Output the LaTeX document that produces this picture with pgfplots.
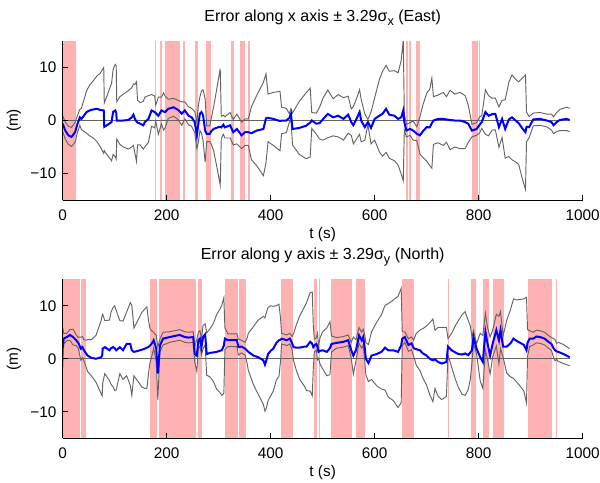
\documentclass[border=0pt]{standalone}
\usepackage{fontspec}
\setmainfont{Liberation Sans}
\usepackage{pgfplots}
\usepackage{pgfplotstable}
\pgfplotsset{compat=1.18}

\definecolor{bandred}{RGB}{255,178,178}
\definecolor{errblue}{RGB}{0,0,255}
\definecolor{boundgray}{RGB}{100,100,100}

% t = time (s), E = error (m), B = 3.29 sigma (m)
\pgfplotstableread{
t E B
0 -0.6 1.5
5 -1.9 1.6
11 -2.8 1.7
17 -3.1 1.8
24 -2.2 1.9
28 -0.8 1.6
33 0.6 1.5
36 0.3 2.0
40 0.8 2.8
46 1.6 4.0
52 1.9 4.8
59 2.1 5.4
66 2.2 6.2
72 2.0 6.9
79 1.9 8.1
80 -1.2 4.5
85 -0.9 5.5
94 -0.3 7.3
97 1.6 8.0
101 1.9 8.7
103 1.5 8.8
104 0.0 3.5
110 0.0 4.5
117 0.0 5.0
126 0.1 5.5
133 0.6 5.6
136 1.1 5.8
139 0.3 6.5
142 -0.2 7.5
144 -0.4 4.2
149 -0.6 4.0
155 -0.9 4.5
158 -0.3 4.7
165 0.3 4.4
171 1.9 3.0
177 1.6 3.0
179 1.4 1.5
184 0.9 3.5
190 1.9 2.5
194 1.7 3.5
197 1.6 3.0
203 2.2 1.8
213 2.5 1.7
222 2.0 1.8
229 1.3 2.2
235 1.9 1.6
242 0.9 1.7
248 0.6 1.7
254 -0.3 2.0
258 -2.8 2.5
261 -0.6 3.5
264 1.3 3.2
267 1.6 4.0
270 1.0 4.8
274 -1.9 6.0
277 -2.5 1.5
283 -2.5 1.5
286 -2.0 2.5
290 -1.6 4.0
298 -1.3 8.2
303 -1.2 11.0
305 -1.3 2.1
309 -0.8 1.8
312 -1.3 2.0
322 -0.9 2.4
328 -2.2 2.4
335 -1.6 2.8
344 -2.8 2.5
351 -2.2 2.5
357 -2.2 2.5
363 -2.4 5.0
373 -1.9 6.6
386 -1.6 8.8
391 0.4 8.4
395 0.5 4.5
405 0.3 5.0
418 -0.1 5.6
421 0.0 2.5
430 0.0 2.3
436 0.5 0.8
439 1.25 1.0
442 -1.6 3.0
455 -1.4 5.0
468 -1.0 6.2
476 -0.4 6.5
479 0.0 1.5
488 -0.6 2.0
494 -0.5 3.0
501 0.3 4.0
510 1.25 4.5
520 0.6 3.5
530 0.9 4.0
540 0.3 4.0
549 1.1 3.5
555 -0.3 2.5
559 -0.9 3.5
565 0.3 3.8
571 1.6 4.2
574 0.0 4.0
581 -1.25 2.5
587 -0.3 0.5
593 -1.4 3.0
600 0.3 4.0
609 0.9 6.8
615 1.25 8.0
622 2.2 8.2
628 1.1 8.2
638 0.9 8.5
645 0.3 8.7
651 0.6 10.7
655 1.9 13.3
657 -0.3 1.5
661 -1.9 1.2
668 -1.6 1.2
674 -1.9 1.8
681 -2.5 1.3
687 -2.8 3.5
693 -2.0 5.0
700 -1.25 6.4
706 -1.3 7.2
710 -0.5 8.5
713 0.0 4.5
722 0.3 4.5
732 0.3 5.0
738 0.2 4.3
745 0.1 5.6
754 0.0 5.0
764 0.0 5.3
774 -0.3 5.0
780 -0.6 3.5
787 -1.9 1.2
796 -1.6 1.2
802 -0.8 1.5
806 -0.3 1.2
813 1.6 4.2
819 0.9 3.8
826 1.2 3.0
832 1.25 3.0
839 -1.25 3.8
845 0.3 3.5
851 -1.6 5.5
858 0.2 7.0
864 0.6 8.0
871 0.0 7.8
877 -0.5 7.8
884 -1.5 9.5
890 -2.2 10.8
892 -1.2 2.8
897 -1.25 2.0
905 0.2 1.2
918 0.3 1.2
931 0.0 1.2
940 -0.3 1.5
944 -0.9 1.6
950 -0.3 1.8
956 0.1 2.0
969 0.3 2.2
975 0.1 2.2
}\eastdata

\pgfplotstableread{
t E B
0 2.0 4.0
2 3.8 1.0
8 4.1 0.7
14 4.5 1.0
20 4.1 1.5
26 3.5 1.0
30 3.0 1.0
32 2.6 1.5
35 1.9 2.2
38 2.2 2.0
41 1.6 2.0
45 1.0 2.5
48 0.6 3.0
55 0.2 3.4
64 0.0 4.4
74 0.3 6.9
76 0.6 7.6
77 1.9 6.5
81 2.2 5.0
90 1.6 5.7
93 2.0 6.8
97 2.2 7.5
100 2.0 8.0
103 1.6 7.5
110 2.2 5.0
116 1.6 5.5
123 2.8 6.0
130 2.8 7.8
133 1.6 8.5
137 1.3 4.5
145 1.5 5.8
152 1.7 7.0
158 1.9 7.5
162 2.1 7.7
165 2.2 5.0
168 2.5 3.2
171 2.8 2.5
175 3.5 1.5
180 1.9 2.5
183 -2.8 5.0
187 2.5 1.2
193 3.8 1.2
206 4.1 1.0
225 4.5 1.0
235 4.1 1.0
242 4.0 1.0
251 4.1 1.0
254 0.9 1.5
258 0.6 3.0
261 3.5 1.5
264 3.8 1.5
267 2.2 1.5
270 4.1 2.2
274 4.6 2.0
277 0.9 4.0
283 1.1 4.5
290 1.2 5.5
296 1.3 7.0
302 1.5 7.8
306 1.6 8.5
310 2.5 9.0
312 3.8 2.0
318 3.5 1.2
328 3.5 1.2
335 3.5 1.2
338 2.2 1.5
344 2.3 1.2
351 1.9 1.2
355 1.5 2.5
357 1.3 3.5
367 0.6 5.5
376 0.3 7.0
386 -0.3 8.3
389 -1.1 8.8
392 -0.2 9.0
395 0.9 8.8
400 1.5 8.5
405 1.9 8.0
411 3.0 7.0
416 3.5 6.8
419 3.6 4.0
421 3.8 1.0
431 3.5 1.0
437 3.8 1.0
441 3.0 1.2
444 2.2 2.5
450 2.1 4.5
456 2.1 6.0
465 2.3 7.5
469 2.3 8.3
476 3.2 9.3
480 2.8 9.8
482 2.2 4.0
484 2.5 1.2
488 2.8 1.2
490 2.3 2.5
492 1.3 1.2
495 1.5 2.5
500 1.6 3.5
508 1.3 4.5
514 2.0 5.0
517 2.8 1.5
527 3.0 1.0
540 3.2 1.0
549 3.5 1.0
555 1.6 1.5
559 0.6 3.5
564 1.6 2.0
570 4.4 1.5
575 3.5 1.5
578 4.1 1.5
581 2.0 2.5
583 0.0 3.0
588 -0.8 3.5
594 0.6 4.5
604 0.9 6.0
613 1.3 7.0
620 2.1 8.0
626 1.6 8.8
636 1.6 9.5
645 1.3 10.5
651 2.5 10.8
653 3.8 1.3
658 4.1 1.0
665 2.6 1.2
671 2.9 1.2
675 2.0 1.5
680 1.8 3.0
687 1.6 3.8
693 1.0 4.7
700 0.6 5.6
706 0.0 6.8
712 -0.3 7.8
716 -0.1 5.5
722 -0.6 6.5
729 -0.9 6.8
738 -0.6 6.5
741 2.3 1.5
748 1.6 3.2
755 1.2 5.0
761 0.9 6.3
768 0.8 7.5
774 1.0 7.9
780 0.7 6.5
784 1.2 5.0
787 1.6 2.5
790 4.1 1.2
796 1.9 1.0
803 0.3 4.5
808 -0.6 5.0
813 5.1 3.5
817 2.9 3.0
822 0.6 3.5
827 2.9 2.5
834 5.4 3.0
839 3.5 4.5
842 5.4 3.5
847 2.3 2.0
854 2.3 5.0
861 2.9 6.3
867 3.8 7.5
874 3.3 7.8
880 3.0 8.2
887 2.6 8.7
892 1.6 10.0
894 3.0 2.5
898 3.8 1.5
905 3.8 1.2
911 4.2 1.2
918 4.1 1.2
927 3.8 1.2
934 3.2 1.2
940 2.8 1.2
944 2.0 1.8
947 1.6 2.0
950 1.4 1.5
953 1.3 1.8
963 0.9 1.8
975 0.3 1.6
}\northdata

% shaded interval (s)
\newcommand{\band}[2]{\addplot[fill=bandred, draw=none, forget plot] coordinates {(#1,-15) (#2,-15) (#2,15) (#1,15)} -- cycle;}

\pgfplotsset{
  errax/.style={
    scale only axis, width=390pt, height=119.25pt,
    xmin=0, xmax=1000, ymin=-15, ymax=15,
    axis x line*=bottom, axis y line*=left,
    axis on top,
    axis line style={-, black, line width=0.6pt},
    tick align=inside, major tick length=3.75pt,
    tick style={black, line width=0.6pt},
    xtick={0,200,400,600,800,1000}, xticklabels={0,200,400,600,800,1000},
    ytick={-10,0,10}, yticklabels={−10,0,10},
    tick label style={font=\fontsize{11.5}{13}\selectfont, inner sep=0pt},
    xticklabel style={anchor=base, yshift=-15pt},
    yticklabel style={anchor=east, xshift=-4.5pt},
    label style={font=\fontsize{11.5}{13}\selectfont},
    xlabel={t (s)},
    xlabel style={at={(axis description cs:0.5,0)}, anchor=base, yshift=-29pt, inner sep=0pt},
    ylabel={(m)},
    ylabel style={at={(axis description cs:0,0.5)}, anchor=center, yshift=36.5pt, inner sep=0pt},
    title style={font=\fontsize{12}{14}\selectfont, at={(axis description cs:0.5,1)}, anchor=base, yshift=9pt, inner sep=0pt},
  },
  bound/.style={boundgray, line width=0.7pt},
  err/.style={errblue, line width=1.5pt},
}

\begin{document}
\begin{tikzpicture}
\useasboundingbox (-47pt,-212.2pt) rectangle (403pt,150pt);

\begin{axis}[errax, at={(0,0)},
  title={Error along x axis ± 3.29σ\raisebox{-0.5ex}{\fontsize{9.5}{10}\selectfont x} (East)}]
  \band{0}{25}\band{178}{180}\band{187}{191}\band{197}{226}\band{231}{236}
  \band{254}{260}\band{276}{285}\band{324}{329}\band{341}{351}\band{356}{360}
  \band{660}{664}\band{666}{669}\band{679}{687}\band{787}{798}\band{800}{803}
  \addplot[boundgray, line width=0.6pt] coordinates {(0,0) (975,0)};
  \addplot[bound] table[x=t, y expr=\thisrow{E}+\thisrow{B}] {\eastdata};
  \addplot[bound] table[x=t, y expr=\thisrow{E}-\thisrow{B}] {\eastdata};
  \addplot[err] table[x=t, y=E] {\eastdata};
\end{axis}

\begin{axis}[errax, at={(0,-178.7pt)},
  title={Error along y axis ± 3.29σ\raisebox{-0.5ex}{\fontsize{9.5}{10}\selectfont y} (North)}]
  \band{0}{33}\band{36}{45}\band{168}{181}\band{185}{256}\band{260}{268}
  \band{313}{338}\band{340}{353}\band{420}{442}\band{483}{489}\band{492}{494}
  \band{516}{556}\band{564}{581}\band{652}{675}\band{741}{743}\band{786}{794}
  \band{808}{820}\band{827}{848}\band{894}{941}\band{948}{950}
  \addplot[boundgray, line width=0.6pt] coordinates {(0,0) (975,0)};
  \addplot[bound] table[x=t, y expr=\thisrow{E}+\thisrow{B}] {\northdata};
  \addplot[bound] table[x=t, y expr=\thisrow{E}-\thisrow{B}] {\northdata};
  \addplot[err] table[x=t, y=E] {\northdata};
\end{axis}
\end{tikzpicture}
\end{document}
